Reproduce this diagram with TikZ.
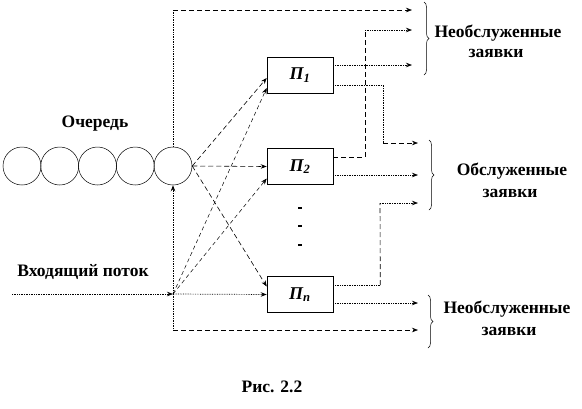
\documentclass[tikz,border=0pt]{standalone}
\usepackage{fontspec}
\setmainfont{Liberation Serif}[BoldFont={Liberation Serif Bold},ItalicFont={Liberation Serif Italic},BoldItalicFont={Liberation Serif Bold Italic}]
\usetikzlibrary{arrows.meta,decorations.pathreplacing,calc}
\begin{document}
\begin{tikzpicture}[x=1pt,y=-1pt,
 arr/.style={-{Stealth[length=6pt,width=4.5pt]}},
 dots/.style={densely dotted, line width=0.7pt},
 dsh/.style={dash pattern=on 5pt off 3pt, line width=0.6pt},
 ldsh/.style={dash pattern=on 4pt off 3pt, line width=0.5pt},
 ball/.style={circle, draw, minimum size=38pt, inner sep=0pt, line width=0.5pt},
 srv/.style={draw, minimum width=66pt, minimum height=36pt, inner sep=0pt, line width=0.6pt, font=\fontsize{18}{20}\selectfont\bfseries\itshape},
 lbl/.style={font=\fontsize{17.5}{20}\selectfont\bfseries, inner sep=0pt, anchor=base},
 brc/.style={decorate, decoration={brace, amplitude=5pt}, line width=0.5pt},
 dotmark/.style={fill=black, minimum width=4pt, minimum height=1.6pt, inner sep=0pt}]
\useasboundingbox (0,0) rectangle (582,408);

% queue
\foreach \i/\x in {1/22,2/59.75,3/97.5,4/135.25,5/173}
  \node[ball] (q\i) at (\x,166) {};

% servers
\node[srv] (p1) at (300,75) {П\textsubscript{1}};
\node[srv] (p2) at (300,166.5) {П\textsubscript{2}};
\node[srv] (pn) at (300,294.5) {П\textsubscript{n}};
\node[dotmark] (d1) at (300,208) {};
\node[dotmark] (d2) at (300,226) {};
\node[dotmark] (d3) at (300,245) {};

% coordinates
\coordinate (j) at (173,294);
\coordinate (in) at (12,294);
\coordinate (ctop) at (173,10);
\coordinate (cbot) at (173,330);
\coordinate (tA) at (412,10);
\coordinate (tB) at (412,30);
\coordinate (tC) at (412,65);
\coordinate (mA) at (418,143);
\coordinate (mB) at (418,175);
\coordinate (mC) at (418,203);
\coordinate (bA) at (418,303);
\coordinate (bB) at (418,330);

% queue line
\draw[dots] (q5.north) -- (ctop);
\draw[dsh,arr] (ctop) -- (tA);
\draw[dots,arr] (in) -- (j);
\draw[dots,arr] (j) -- (q5.south);
\draw[dots] (j) -- (cbot);
\draw[dsh,arr] (cbot) -- (bB);

% queue to servers
\draw[dsh,arr] (q5.east) -- ($(p1.west)+(0,3)$);
\draw[dsh,arr] (q5.east) -- (p2.west);
\draw[dsh,arr] (q5.east) -- ($(pn.west)+(0,-8)$);
% junction to servers
\draw[ldsh,arr] (j) -- ($(p1.west)+(0,13)$);
\draw[ldsh,arr] (j) -- ($(p2.west)+(0,12)$);
\draw[dots,arr] (j) -- (pn.west);

% outputs
\draw[dots,arr] ($(p1.east)+(0,-10)$) -- (tC);
\draw[dots] ($(p1.east)+(0,10)$) -| ($(mA)+(-35,0)$);
\draw[dsh,arr] ($(mA)+(-35,0)$) -- (mA);
\draw[dsh] ($(p2.east)+(0,-9.5)$) -| ($(tB)+(-47,0)$);
\draw[dots,arr] ($(tB)+(-47,0)$) -- (tB);
\draw[dots,arr] ($(p2.east)+(0,8.5)$) -- (mB);
\draw[dots] ($(pn.east)+(0,-9.5)$) -- ($(pn.east)+(47,-9.5)$);
\draw[dsh] ($(pn.east)+(47,-9.5)$) -- ($(mC)+(-38,0)$);
\draw[dots,arr] ($(mC)+(-38,0)$) -- (mC);
\draw[dots,arr] ($(pn.east)+(0,8.5)$) -- (bA);

% braces
\draw[brc] (424,2) -- (424,75);
\draw[brc] (429,140) -- (429,210);
\draw[brc] (428,295) -- (428,348);

% labels
\node[lbl] (t1) at (498,37) {Необслуженные};
\node[lbl] (t1b) at (496,57) {заявки};
\node[lbl] (t2) at (512,175) {Обслуженные};
\node[lbl] (t2b) at (510,197) {заявки};
\node[lbl] (t3) at (507,313) {Необслуженные};
\node[lbl] (t3b) at (509,335) {заявки};
\node[lbl] (tq) at (95,127) {Очередь};
\node[lbl] (tin) at (83,276) {Входящий поток};
\node[lbl] (cap) at (272,392) {Рис. 2.2};
\end{tikzpicture}
\end{document}
